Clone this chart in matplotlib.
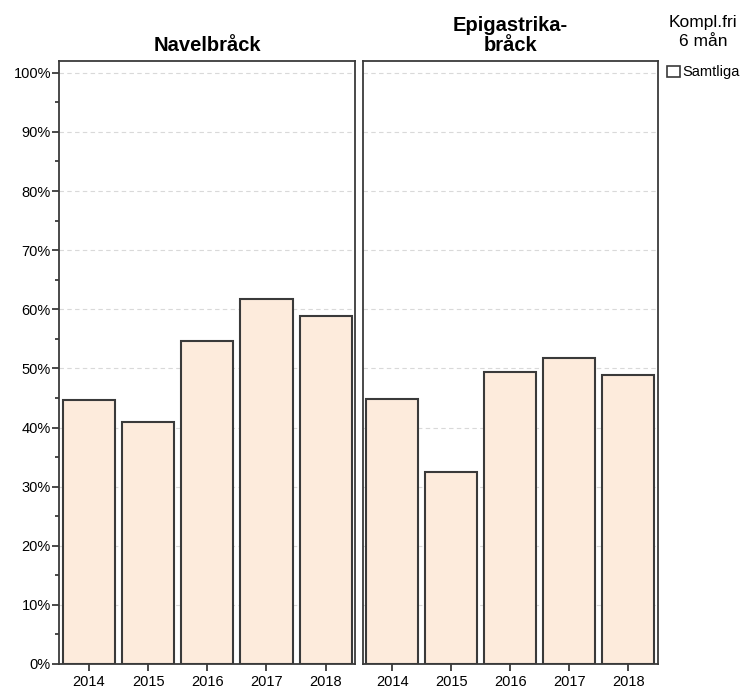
import matplotlib
matplotlib.use("Agg")
import matplotlib.pyplot as plt
from matplotlib.patches import Patch
from matplotlib.ticker import MultipleLocator, PercentFormatter

# data
years = ["2014", "2015", "2016", "2017", "2018"]
navel = [44.6, 40.9, 54.7, 61.8, 58.8]
epigastrika = [44.8, 32.4, 49.4, 51.7, 48.8]
panel_titles = ["Navelbråck", "Epigastrika-\nbråck"]

plt.rcParams['font.family'] = ['Liberation Sans', 'DejaVu Sans']

bar_color = "#fdebdc"
edge_color = "#3a3a3a"

fig = plt.figure(figsize=(7.43, 6.89), dpi=100)
ax1 = fig.add_axes([0.0798, 0.0363, 0.3984, 0.8752])
ax2 = fig.add_axes([0.4881, 0.0363, 0.3970, 0.8752])

for ax, vals, title in [(ax1, navel, panel_titles[0]), (ax2, epigastrika, panel_titles[1])]:
    x = range(len(years))
    ax.bar(x, vals, width=0.88, color=bar_color, edgecolor=edge_color, linewidth=1.5, zorder=3)
    ax.set_xlim(-0.5, len(years) - 0.5)
    ax.set_ylim(0, 102)
    ax.set_xticks(list(x))
    ax.set_xticklabels(years, fontsize=10.5)
    ax.yaxis.set_major_locator(MultipleLocator(10))
    ax.yaxis.set_minor_locator(MultipleLocator(5))
    ax.grid(axis='y', which='major', linestyle=(0, (4, 3)), color='#d9d9d9', linewidth=0.8, zorder=0)
    for s in ax.spines.values():
        s.set_color(edge_color)
        s.set_linewidth(1.3)
    ax.tick_params(axis='x', length=5, width=1.3, color=edge_color, pad=3)
    ax.set_title(title, fontsize=14.5, fontweight='bold', pad=7, linespacing=1.1)

ax1.yaxis.set_major_formatter(PercentFormatter(decimals=0))
ax1.tick_params(axis='y', which='major', length=5, width=1.3, color=edge_color, labelsize=10.5, pad=1)
ax1.tick_params(axis='y', which='minor', length=3, width=1.3, color=edge_color)
ax2.tick_params(axis='y', which='both', left=False, labelleft=False)

# legend on the right
fig.text(0.946, 0.978, "Kompl.fri\n6 mån", ha='center', va='top', fontsize=12.5,
         linespacing=1.3)
fig.legend(handles=[Patch(facecolor='white', edgecolor=edge_color, linewidth=1.2)],
           labels=["Samtliga"], frameon=False,
           loc='upper left', bbox_to_anchor=(0.898, 0.905),
           fontsize=10.5, handlelength=0.85, handleheight=0.85,
           handletextpad=0.2, borderaxespad=0, borderpad=0)

fig.savefig("out.png", dpi=100)
